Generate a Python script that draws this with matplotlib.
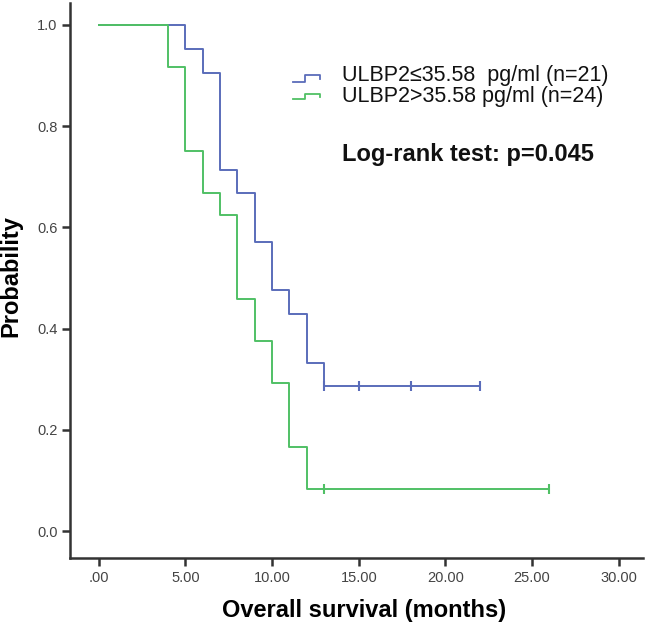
import matplotlib
matplotlib.use("Agg")
import matplotlib.pyplot as plt
from matplotlib.lines import Line2D

plt.rcParams['font.family'] = ['Liberation Sans', 'DejaVu Sans']

# Kaplan-Meier step data (time in months, survival probability)
low_times = [0, 5, 6, 7, 8, 9, 10, 11, 12, 13, 22]
low_surv = [1.0, 0.952, 0.905, 0.714, 0.667, 0.571, 0.476, 0.429, 0.333, 0.286, 0.286]
low_censor_t = [13, 15, 18, 22]

high_times = [0, 4, 5, 6, 7, 8, 9, 10, 11, 12, 26]
high_surv = [1.0, 0.917, 0.75, 0.667, 0.625, 0.458, 0.375, 0.292, 0.167, 0.083, 0.083]
high_censor_t = [13, 26]

labels = ["ULBP2\u226435.58  pg/ml (n=21)", "ULBP2>35.58 pg/ml (n=24)"]
xticks = [0, 5, 10, 15, 20, 25, 30]
xticklabels = [".00", "5.00", "10.00", "15.00", "20.00", "25.00", "30.00"]
yticks = [0.0, 0.2, 0.4, 0.6, 0.8, 1.0]

blue = '#5a6cba'
green = '#50c065'

W, H = 650, 629
fig = plt.figure(figsize=(W / 100, H / 100), dpi=100)
ax = fig.add_axes([70 / W, 1 - 558 / H, (643 - 70) / W, (558 - 3) / H])

def surv_at(times, surv, t):
    v = surv[0]
    for ti, si in zip(times, surv):
        if ti <= t:
            v = si
    return v

for times, surv, cens, c in [(low_times, low_surv, low_censor_t, blue),
                             (high_times, high_surv, high_censor_t, green)]:
    ax.step(times, surv, where='post', color=c, lw=1.4)
    ax.plot(cens, [surv_at(times, surv, t) for t in cens], linestyle='none',
            marker='|', markersize=7, markeredgewidth=1.5, color=c)

ax.set_xlim(-1.66, 31.4)
ax.set_ylim(-0.053, 1.043)
ax.set_xticks(xticks)
ax.set_xticklabels(xticklabels)
ax.set_yticks(yticks)
ax.set_yticklabels([f"{v:.1f}" for v in yticks])
for s in ['top', 'right']:
    ax.spines[s].set_visible(False)
for s in ['left', 'bottom']:
    ax.spines[s].set_linewidth(1.8)
    ax.spines[s].set_color('#333333')
ax.tick_params(axis='both', direction='out', length=6, width=1.8, color='#333333',
               labelsize=10.5, labelcolor='#444444', pad=3)

fig.text(11 / W, 1 - 276 / H, "Probability", rotation=90, fontsize=17, fontweight='bold',
         ha='center', va='center')
fig.text(364 / W, 1 - 611 / H, "Overall survival (months)", fontsize=17, fontweight='bold',
         ha='center', va='center')

# legend
ys = [(81.7, 75.0), (99.3, 94.3)]
for (ylow, yhigh), c, lab, yt in zip(ys, [blue, green], labels, [75, 96.7]):
    xs = [292.7, 305, 305, 320, 320]
    yy = [ylow, ylow, yhigh, yhigh, ylow - 2.5]
    fig.add_artist(Line2D([x / W for x in xs], [1 - y / H for y in yy], color=c, lw=1.3,
                          transform=fig.transFigure))
    fig.text(341.7 / W, 1 - yt / H, lab, fontsize=15.5, ha='left', va='center', color='#111111')

fig.text(341.7 / W, 1 - 155 / H, "Log-rank test: p=0.045", fontsize=17, fontweight='bold',
         ha='left', va='center', color='#111111')

fig.savefig("out.png", dpi=100, facecolor='white')
